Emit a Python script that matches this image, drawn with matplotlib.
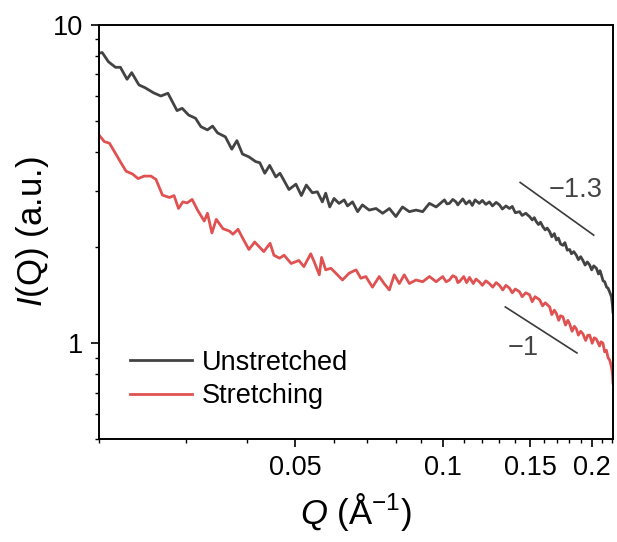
import matplotlib
matplotlib.use('Agg')
import matplotlib.pyplot as plt
from matplotlib.ticker import FixedLocator, NullFormatter, FixedFormatter
import numpy as np

plt.rcParams['font.family'] = ['Liberation Sans', 'DejaVu Sans']
plt.rcParams['mathtext.fontset'] = 'custom'
plt.rcParams['mathtext.rm'] = 'Liberation Sans'
plt.rcParams['mathtext.it'] = 'Liberation Sans:italic'

# Unstretched
q_un = [0.0200, 0.0203, 0.0209, 0.0216, 0.0221, 0.0228, 0.0233, 0.0241, 0.0248, 0.0258,
        0.0267, 0.0276, 0.0288, 0.0295, 0.0304, 0.0314, 0.0322, 0.0332, 0.0340, 0.0348,
        0.0361, 0.0372, 0.0381, 0.0391, 0.0403, 0.0416, 0.0424, 0.0434, 0.0444, 0.0457,
        0.0466, 0.0486, 0.0502, 0.0515, 0.0527, 0.0542, 0.0555, 0.0568, 0.0577, 0.0588,
        0.0600, 0.0614, 0.0629, 0.0639, 0.0654, 0.0670, 0.0685, 0.0707, 0.0730, 0.0753,
        0.0777, 0.0801, 0.0826, 0.0853, 0.0880, 0.0908, 0.0937, 0.0967,
        0.1005, 0.1017, 0.1029, 0.1045, 0.1061, 0.1070, 0.1078, 0.1095, 0.1112, 0.1130,
        0.1145, 0.1160, 0.1183, 0.1200, 0.1220, 0.1240, 0.1258, 0.1280, 0.1300, 0.1318,
        0.1340, 0.1362, 0.1380, 0.1400, 0.1428, 0.1445, 0.1470, 0.1496, 0.1515, 0.1530,
        0.1544, 0.1560, 0.1575, 0.1593, 0.1610, 0.1625, 0.1644, 0.1660, 0.1680, 0.1696,
        0.1712, 0.1730, 0.1749, 0.1765, 0.1785, 0.1805, 0.1820, 0.1840, 0.1862, 0.1880,
        0.1900, 0.1920, 0.1940, 0.1960, 0.1982, 0.2000, 0.2020, 0.2045, 0.2065, 0.2080,
        0.2093, 0.2110, 0.2126, 0.2145, 0.2159, 0.2175, 0.2194, 0.2203, 0.2210]
i_un = [8.15, 8.19, 7.66, 7.36, 7.36, 6.75, 7.08, 6.48, 6.35, 6.12,
        5.98, 6.10, 5.38, 5.47, 5.21, 5.09, 4.79, 4.68, 4.81, 4.58,
        4.45, 4.07, 4.33, 3.93, 3.85, 3.72, 3.69, 3.42, 3.62, 3.33,
        3.42, 3.04, 3.16, 2.91, 3.14, 2.97, 2.99, 2.78, 2.96, 2.68,
        2.85, 2.75, 2.82, 2.70, 2.78, 2.59, 2.72, 2.62, 2.65, 2.56,
        2.65, 2.50, 2.68, 2.59, 2.62, 2.59, 2.75, 2.68,
        2.82, 2.74, 2.75, 2.83, 2.78, 2.72, 2.76, 2.84, 2.74, 2.80,
        2.71, 2.82, 2.75, 2.81, 2.73, 2.78, 2.70, 2.77, 2.72, 2.64,
        2.70, 2.65, 2.69, 2.57, 2.59, 2.52, 2.56, 2.50, 2.44, 2.48,
        2.41, 2.36, 2.40, 2.32, 2.27, 2.30, 2.24, 2.16, 2.21, 2.11,
        2.14, 2.05, 2.03, 2.07, 1.96, 1.97, 1.91, 1.94, 1.89, 1.83,
        1.87, 1.82, 1.76, 1.80, 1.76, 1.70, 1.75, 1.72, 1.65, 1.69,
        1.64, 1.57, 1.56, 1.50, 1.49, 1.45, 1.40, 1.33, 1.25]

# Stretching
q_st = [0.0200, 0.0205, 0.0210, 0.0217, 0.0222, 0.0227, 0.0234, 0.0240, 0.0247, 0.0255,
        0.0261, 0.0269, 0.0278, 0.0284, 0.0290, 0.0296, 0.0302, 0.0309, 0.0317, 0.0327,
        0.0332, 0.0339, 0.0346, 0.0357, 0.0368, 0.0374, 0.0383, 0.0392, 0.0403, 0.0414,
        0.0432, 0.0445, 0.0453, 0.0465, 0.0475, 0.0491, 0.0509, 0.0521, 0.0538, 0.0547,
        0.0560, 0.0566, 0.0577, 0.0591, 0.0605, 0.0624, 0.0644, 0.0665, 0.0680, 0.0696,
        0.0718, 0.0741, 0.0758, 0.0777, 0.0795, 0.0814, 0.0833, 0.0853, 0.0880, 0.0908,
        0.0937, 0.0967,
        0.0997, 0.1013, 0.1029, 0.1045, 0.1061, 0.1070, 0.1078, 0.1100, 0.1115, 0.1130,
        0.1150, 0.1165, 0.1183, 0.1200, 0.1220, 0.1240, 0.1260, 0.1280, 0.1300, 0.1320,
        0.1340, 0.1362, 0.1380, 0.1400, 0.1428, 0.1445, 0.1470, 0.1496, 0.1515, 0.1535,
        0.1568, 0.1590, 0.1610, 0.1644, 0.1660, 0.1680, 0.1696, 0.1715, 0.1730, 0.1749,
        0.1770, 0.1790, 0.1805, 0.1825, 0.1845, 0.1862, 0.1880, 0.1900, 0.1920, 0.1945,
        0.1965, 0.1982, 0.2005, 0.2025, 0.2045, 0.2075, 0.2090, 0.2109, 0.2125, 0.2143,
        0.2160, 0.2177, 0.2195, 0.2205, 0.2210]
i_st = [4.51, 4.30, 4.25, 3.90, 3.67, 3.47, 3.40, 3.29, 3.35, 3.35,
        3.27, 2.92, 2.87, 2.91, 2.65, 2.78, 2.76, 2.83, 2.62, 2.42,
        2.56, 2.22, 2.45, 2.29, 2.25, 2.20, 2.28, 2.13, 1.97, 2.08,
        1.94, 2.06, 1.89, 1.85, 1.89, 1.78, 1.82, 1.74, 1.91, 1.80,
        1.64, 1.86, 1.70, 1.72, 1.66, 1.58, 1.66, 1.70, 1.60, 1.62,
        1.50, 1.62, 1.54, 1.47, 1.64, 1.54, 1.64, 1.54, 1.58, 1.56,
        1.62, 1.56,
        1.62, 1.56, 1.58, 1.63, 1.61, 1.55, 1.56, 1.62, 1.55, 1.61,
        1.54, 1.59, 1.56, 1.52, 1.57, 1.54, 1.50, 1.55, 1.52, 1.47,
        1.52, 1.49, 1.44, 1.48, 1.45, 1.40, 1.44, 1.42, 1.35, 1.40,
        1.37, 1.31, 1.34, 1.30, 1.23, 1.27, 1.24, 1.18, 1.22, 1.21,
        1.14, 1.18, 1.15, 1.09, 1.13, 1.11, 1.06, 1.09, 1.07, 1.02,
        1.06, 1.06, 1.00, 1.04, 1.03, 0.98, 1.01, 1.00, 0.94, 0.95,
        0.90, 0.884, 0.84, 0.80, 0.75]

# power-law guide lines and their labels
guide_13_q = [0.1432, 0.2019]
guide_13_i = [3.20, 2.186]
guide_1_q = [0.1336, 0.1867]
guide_1_i = [1.30, 0.932]

fig = plt.figure(figsize=(6.17, 5.42), dpi=100)
ax = fig.add_axes([0.1605, 0.19, 0.833, 0.764])

ax.plot(q_un, i_un, color='#434343', lw=2.0, label='Unstretched')
ax.plot(q_st, i_st, color='#e05252', lw=2.0, label='Stretching')
ax.plot(guide_13_q, guide_13_i, color='#3a3a3a', lw=1.2)
ax.plot(guide_1_q, guide_1_i, color='#3a3a3a', lw=1.2)
ax.text(0.186, 3.03, '\u22121.3', fontsize=19.5, color='#444444', ha='center', va='center')
ax.text(0.1455, 0.964, '\u22121', fontsize=19.5, color='#444444', ha='center', va='center')

ax.set_xscale('log')
ax.set_yscale('log')
ax.set_xlim(0.02, 0.221)
ax.set_ylim(0.5, 10)

ax.xaxis.set_major_locator(FixedLocator([0.05, 0.1, 0.15, 0.2]))
ax.xaxis.set_major_formatter(FixedFormatter(['0.05', '0.1', '0.15', '0.2']))
ax.xaxis.set_minor_locator(FixedLocator([0.02, 0.03, 0.04, 0.06, 0.07, 0.08, 0.09, 0.11, 0.12,
                                         0.13, 0.14, 0.16, 0.17, 0.18, 0.19, 0.21, 0.22]))
ax.xaxis.set_minor_formatter(NullFormatter())
ax.yaxis.set_major_locator(FixedLocator([1, 10]))
ax.yaxis.set_major_formatter(FixedFormatter(['1', '10']))
ax.yaxis.set_minor_locator(FixedLocator([0.5, 0.6, 0.7, 0.8, 0.9, 2, 3, 4, 5, 6, 7, 8, 9]))
ax.yaxis.set_minor_formatter(NullFormatter())

ax.tick_params(which='major', direction='out', length=5.5, width=1.2, labelsize=19.5, pad=6)
ax.tick_params(which='minor', direction='out', length=3, width=1.0)
for s in ax.spines.values():
    s.set_linewidth(1.4)

ax.set_xlabel('$\\mathit{Q}$ (Å$^{-1}$)', fontsize=25, labelpad=7)
ax.set_ylabel('$\\mathit{I}$(Q) (a.u.)', fontsize=25, labelpad=1)

ax.legend(loc='lower left', bbox_to_anchor=(0.06, 0.072), frameon=False, fontsize=19.5,
          handlelength=2.3, handletextpad=0.35, labelspacing=0.28, borderpad=0, borderaxespad=0)

fig.savefig('out.png', dpi=100)
